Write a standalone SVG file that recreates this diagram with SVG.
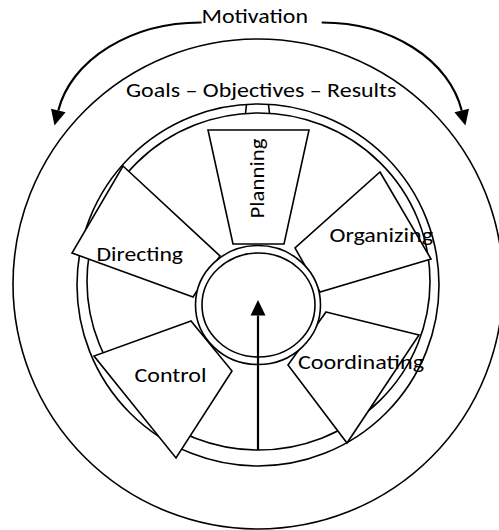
<svg xmlns="http://www.w3.org/2000/svg" width="499" height="530" viewBox="0 0 499 530">
  <defs>
    <style>
      .ln{fill:none;stroke:#000;stroke-width:1.6}
      .blk{fill:#fff;stroke:#000;stroke-width:1.6;stroke-linejoin:miter}
      .lbl{font-family:Carlito, Lato, 'Open Sans', sans-serif;font-size:21px;fill:#000}
      .arw{fill:none;stroke:#000;stroke-width:2.2}
    </style>
    <marker id="head" markerUnits="userSpaceOnUse" markerWidth="16" markerHeight="16" viewBox="0 -8 16 16" refX="0" refY="0" orient="auto" overflow="visible">
      <path d="M0,-7.5 L15.5,0 L0,7.5 z" fill="#000"/>
    </marker>
  </defs>

  <!-- outer motivation circle -->
  <g id="outer-circle">
    <circle class="ln" cx="258" cy="284" r="245"/>
  </g>

  <!-- wheel rim: double ring with the small top notch -->
  <g id="rim">
    <circle class="ln" cx="258" cy="285" r="181"/>
    <ellipse class="ln" cx="258.5" cy="281.5" rx="171.5" ry="168.5"/>
    <path class="ln" d="M246.5,104.5 L245.5,113.4 M268.5,104.5 L269.5,113.4"/>
  </g>

  <!-- function blocks -->
  <g id="planning">
    <polygon class="blk" points="208,130 309,130 284,244 233,244"/>
    <text class="lbl" transform="translate(263.5,218.5) rotate(-90)" x="0" y="0" textLength="80" lengthAdjust="spacingAndGlyphs">Planning</text>
  </g>
  <g id="organizing">
    <polygon class="blk" points="380,172 431,259 320,292 295,248"/>
  </g>
  <g id="coordinating">
    <polygon class="blk" points="326,312 419,335 347,443 288,365"/>
  </g>
  <g id="control">
    <polygon class="blk" points="191,321 94,356 176,458 232,371"/>
  </g>
  <g id="directing">
    <polygon class="blk" points="123,166 220,256 193,297 72,253"/>
  </g>

  <!-- hub -->
  <g id="hub">
    <ellipse class="blk" cx="258" cy="305" rx="62.5" ry="59.5"/>
    <ellipse class="ln" cx="258.5" cy="305" rx="56.5" ry="52"/>
  </g>

  <!-- connectors -->
  <g id="connectors">
    <path class="arw" d="M201.7,22.5 A145,108 0 0 0 58.3,110.5" marker-end="url(#head)"/>
    <path class="arw" d="M321.7,22.5 A142,108 0 0 1 461.7,110.5" marker-end="url(#head)"/>
    <path class="arw" d="M258,450 L258,315.5" marker-end="url(#head)"/>
  </g>

  <!-- labels -->
  <g id="labels">
    <text class="lbl" x="201.5" y="22.7" textLength="106.5" lengthAdjust="spacingAndGlyphs">Motivation</text>
    <text class="lbl" x="126" y="96.8" textLength="270.5" lengthAdjust="spacingAndGlyphs">Goals – Objectives – Results</text>
    <text class="lbl" x="96.5" y="261" textLength="86.5" lengthAdjust="spacingAndGlyphs">Directing</text>
    <text class="lbl" x="329.5" y="242.3" textLength="103.5" lengthAdjust="spacingAndGlyphs">Organizing</text>
    <text class="lbl" x="298" y="369.3" textLength="126" lengthAdjust="spacingAndGlyphs">Coordinating</text>
    <text class="lbl" x="134.5" y="381.7" textLength="72" lengthAdjust="spacingAndGlyphs">Control</text>
  </g>
</svg>
